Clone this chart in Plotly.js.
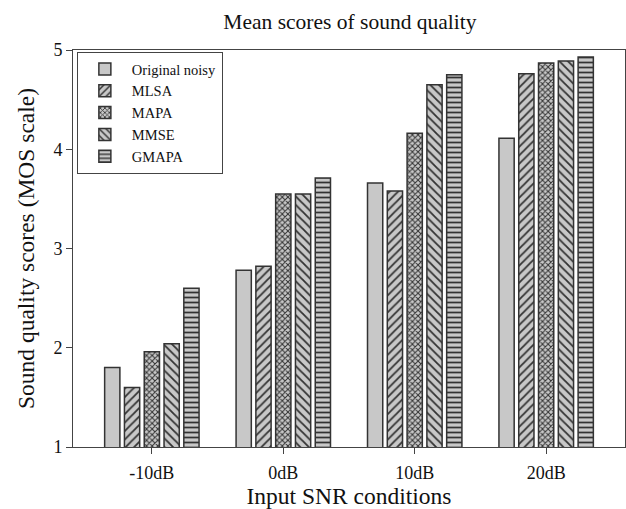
<!DOCTYPE html>
<html>
<head>
<meta charset="utf-8">
<script src="https://cdn.plot.ly/plotly-3.0.1.min.js"></script>
<style>html,body{margin:0;padding:0;background:#fff;}#chart{width:626px;height:509px;}</style>
</head>
<body>
<div id="chart"></div>
<script>
const categories = ["-10dB", "0dB", "10dB", "20dB"];
const seriesNames = ["Original noisy", "MLSA", "MAPA", "MMSE", "GMAPA"];
const originalNoisy = [1.80, 2.78, 3.66, 4.11];
const mlsa = [1.60, 2.82, 3.58, 4.76];
const mapa = [1.96, 3.55, 4.16, 4.87];
const mmse = [2.04, 3.55, 4.65, 4.89];
const gmapa = [2.60, 3.71, 4.75, 4.93];
const yTicks = [1, 2, 3, 4, 5];

const values = [originalNoisy, mlsa, mapa, mmse, gmapa];
const patterns = [
  {shape: ""},
  {shape: "/", size: 6, solidity: 0.3},
  {shape: "x", size: 4, solidity: 0.45},
  {shape: "\\", size: 6, solidity: 0.3},
  {shape: "-", size: 5, solidity: 0.35}
];
const fg = "#333333", bg = "#c8c8c8";

const traces = seriesNames.map((name, i) => ({
  type: "bar",
  name: name,
  x: categories,
  y: values[i],
  base: 0,
  marker: {
    color: bg,
    line: {color: fg, width: 1.5},
    pattern: Object.assign({fgcolor: fg, bgcolor: bg, fillmode: "replace"}, patterns[i])
  }
}));

const serif = "Liberation Serif, Times New Roman, serif";
const layout = {
  width: 626, height: 509,
  margin: {l: 73, r: 1, t: 50, b: 62},
  paper_bgcolor: "#fff", plot_bgcolor: "#fff",
  font: {family: serif, color: "#111"},
  title: {text: "Mean scores of sound quality", font: {family: serif, size: 21.5, color: "#111"}, x: 0.559, xanchor: "center", y: 0.957, yanchor: "middle"},
  barmode: "group",
  bargap: 0.247,
  bargroupgap: 0.23,
  showlegend: true,
  legend: {
    x: 0.007, y: 0.995, xanchor: "left", yanchor: "top",
    bgcolor: "#fff", bordercolor: "#444", borderwidth: 1,
    font: {family: serif, size: 14.5, color: "#111"},
    tracegroupgap: 0, itemwidth: 44
  },
  xaxis: {
    type: "category",
    range: [-0.6, 3.6],
    showline: true, linecolor: "#444", linewidth: 1, mirror: true,
    ticks: "outside", ticklen: 6, tickcolor: "#444",
    ticklabelstandoff: 3,
    showgrid: false, zeroline: false,
    tickfont: {family: serif, size: 18, color: "#111"},
    title: {text: "Input SNR conditions", font: {family: serif, size: 23.5, color: "#111"}, standoff: 9}
  },
  yaxis: {
    range: [1, 5],
    tickvals: yTicks,
    showline: true, linecolor: "#444", linewidth: 1, mirror: true,
    ticks: "outside", ticklen: 6, tickcolor: "#444",
    showgrid: false, zeroline: false,
    tickfont: {family: serif, size: 18, color: "#111"},
    title: {text: "Sound quality scores (MOS scale)", font: {family: serif, size: 23.5, color: "#111"}, standoff: 12}
  }
};

Plotly.newPlot("chart", traces, layout, {displayModeBar: false, staticPlot: true});
</script>
</body>
</html>
